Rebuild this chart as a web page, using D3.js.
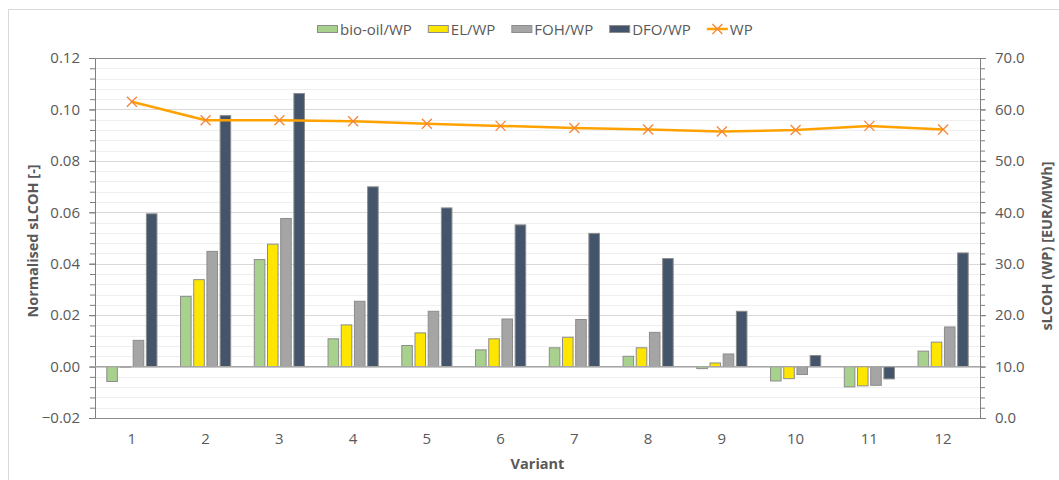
<!DOCTYPE html>
<html>
<head>
<meta charset="utf-8">
<script src="https://cdn.jsdelivr.net/npm/d3@7"></script>
<style>
  html, body { margin: 0; padding: 0; background: #fff; }
  svg { display: block; font-family: "Open Sans", sans-serif; }
</style>
</head>
<body>
<svg id="chart" width="1059" height="480"></svg>
<script>
// Variants on the category axis
const variants = ["1", "2", "3", "4", "5", "6", "7", "8", "9", "10", "11", "12"];

// Normalised sLCOH of each alternative relative to WP
const bioOilWP = [-0.0058, 0.0273, 0.0416, 0.0108, 0.0082, 0.0065, 0.0073, 0.0040, -0.0008, -0.0056, -0.0079, 0.0060];
const elWP     = [-0.0002, 0.0338, 0.0476, 0.0162, 0.0131, 0.0108, 0.0114, 0.0073, 0.0014, -0.0047, -0.0075, 0.0095];
const fohWP    = [0.0102, 0.0448, 0.0576, 0.0254, 0.0215, 0.0185, 0.0183, 0.0133, 0.0049, -0.0031, -0.0073, 0.0154];
const dfoWP    = [0.0594, 0.0976, 0.1062, 0.0699, 0.0617, 0.0551, 0.0518, 0.0420, 0.0215, 0.0043, -0.0048, 0.0442];

// sLCOH of the WP reference [EUR/MWh]
const wpLCOH = [61.5, 57.9, 57.9, 57.7, 57.2, 56.8, 56.4, 56.1, 55.7, 56.0, 56.8, 56.1];

const seriesNames = ["bio-oil/WP", "EL/WP", "FOH/WP", "DFO/WP"];
const seriesColors = ["#a9d18e", "#ffe600", "#a5a5a5", "#44546a"];
const lineName = "WP";

const leftTicks = [-0.02, 0.00, 0.02, 0.04, 0.06, 0.08, 0.10, 0.12];
const rightTicks = [0, 10, 20, 30, 40, 50, 60, 70];

const barSeries = [bioOilWP, elWP, fohWP, dfoWP];

const svg = d3.select("#chart");
const M = { left: 95, right: 980, top: 58, bottom: 418 };
const FS = "15px";

// outer chart frame
svg.append("rect")
  .attr("x", 8.5).attr("y", 9.5).attr("width", 1200).attr("height", 600)
  .attr("fill", "none").attr("stroke", "#d9d9d9").attr("stroke-width", 1);

const x0 = d3.scaleBand().domain(variants).range([M.left, M.right]).padding(0);
const bw = x0.bandwidth();
const x1 = d3.scaleBand().domain(seriesNames).range([bw * 0.16, bw * 0.84]).paddingInner(0.2);

const yL = d3.scaleLinear().domain([-0.02, 0.12]).range([M.bottom, M.top]);
const yR = d3.scaleLinear().domain([0, 70]).range([M.bottom, M.top]);

// gridlines: minor every 0.004, major every 0.02
const minorVals = d3.range(0, 36).map(i => -0.02 + i * 0.004);
svg.append("g").selectAll("line").data(minorVals).join("line")
  .attr("x1", M.left).attr("x2", M.right)
  .attr("y1", d => Math.round(yL(d)) + 0.5).attr("y2", d => Math.round(yL(d)) + 0.5)
  .attr("stroke", "#efefef").attr("stroke-width", 1);
svg.append("g").selectAll("line").data(leftTicks).join("line")
  .attr("x1", M.left).attr("x2", M.right)
  .attr("y1", d => Math.round(yL(d)) + 0.5).attr("y2", d => Math.round(yL(d)) + 0.5)
  .attr("stroke", "#d9d9d9").attr("stroke-width", 1);

// left axis
const leftAxis = svg.append("g").attr("transform", `translate(${M.left},0)`)
  .call(d3.axisLeft(yL).tickValues(leftTicks).tickFormat(d3.format(".2f")).tickSize(6).tickPadding(9));
const leftMinor = svg.append("g").attr("transform", `translate(${M.left},0)`)
  .call(d3.axisLeft(yL).tickValues(minorVals).tickFormat("").tickSize(5));
// right axis
const rightAxis = svg.append("g").attr("transform", `translate(${M.right},0)`)
  .call(d3.axisRight(yR).tickValues(rightTicks).tickFormat(d3.format(".1f")).tickSize(6).tickPadding(9));
const rightMinor = svg.append("g").attr("transform", `translate(${M.right},0)`)
  .call(d3.axisRight(yR).tickValues(d3.range(0, 36).map(i => i * 2)).tickFormat("").tickSize(5));

[leftAxis, leftMinor, rightAxis, rightMinor].forEach(g => {
  g.selectAll(".domain").attr("stroke", "#7f7f7f");
  g.selectAll(".tick line").attr("stroke", "#7f7f7f");
  g.selectAll("text").attr("fill", "#595959").style("font-size", FS)
    .style("font-family", "'Open Sans', sans-serif");
});

// plot frame top/bottom
svg.append("line").attr("x1", M.left).attr("x2", M.right)
  .attr("y1", M.top + 0.5).attr("y2", M.top + 0.5).attr("stroke", "#8c8c8c");
svg.append("line").attr("x1", M.left).attr("x2", M.right)
  .attr("y1", M.bottom + 0.5).attr("y2", M.bottom + 0.5).attr("stroke", "#8c8c8c");

// category labels
const xAxis = svg.append("g").attr("transform", `translate(0,${M.bottom})`)
  .call(d3.axisBottom(x0).tickSize(0).tickPadding(15));
xAxis.select(".domain").remove();
xAxis.selectAll("text").attr("fill", "#595959").style("font-size", FS)
  .style("font-family", "'Open Sans', sans-serif");

// bars
const groups = svg.append("g").selectAll("g").data(variants).join("g")
  .attr("transform", d => `translate(${x0(d)},0)`);
groups.selectAll("rect")
  .data((d, i) => seriesNames.map((s, k) => ({ s, k, v: barSeries[k][i] })))
  .join("rect")
  .attr("x", d => x1(d.s))
  .attr("width", x1.bandwidth())
  .attr("y", d => Math.min(yL(0), yL(d.v)))
  .attr("height", d => Math.abs(yL(d.v) - yL(0)))
  .attr("fill", d => seriesColors[d.k])
  .attr("stroke", "#8c8c8c").attr("stroke-width", 1);

// zero line for the category axis
svg.append("line").attr("x1", M.left).attr("x2", M.right)
  .attr("y1", yL(0)).attr("y2", yL(0)).attr("stroke", "#a6a6a6").attr("stroke-width", 1.2);

// WP line on the secondary axis
const cx = d => x0(d) + bw / 2;
const lineGen = d3.line().x((d, i) => cx(variants[i])).y(d => yR(d));
svg.append("path").datum(wpLCOH).attr("d", lineGen)
  .attr("fill", "none").attr("stroke", "#ffa200").attr("stroke-width", 2.5)
  .attr("stroke-linejoin", "round");

const cross = (g, s) => g.append("path")
  .attr("d", `M${-s},${-s}L${s},${s}M${-s},${s}L${s},${-s}`)
  .attr("stroke", "#f5873a").attr("stroke-width", 1.3).attr("fill", "none");
wpLCOH.forEach((v, i) => {
  const g = svg.append("g").attr("transform", `translate(${cx(variants[i])},${yR(v)})`);
  cross(g, 5);
});

// axis titles
svg.append("text")
  .attr("transform", `translate(38,${(M.top + M.bottom) / 2 + 3}) rotate(-90)`)
  .attr("text-anchor", "middle").attr("fill", "#595959")
  .style("font-size", "14.5px").style("font-weight", "bold")
  .text("Normalised sLCOH [-]");
svg.append("text")
  .attr("transform", `translate(1052,${(M.top + M.bottom) / 2 + 8}) rotate(-90)`)
  .attr("text-anchor", "middle").attr("fill", "#595959")
  .style("font-size", "14.5px").style("font-weight", "bold")
  .text("sLCOH (WP) [EUR/MWh]");
svg.append("text")
  .attr("x", (M.left + M.right) / 2).attr("y", 469)
  .attr("text-anchor", "middle").attr("fill", "#595959")
  .style("font-size", "14.5px").style("font-weight", "bold")
  .text("Variant");

// legend
const legend = svg.append("g");
const legendItems = seriesNames.map((n, k) => ({ name: n, color: seriesColors[k], type: "bar" }))
  .concat([{ name: lineName, color: "#ffa200", type: "line" }]);
let lx = 317;
const ly = 29;
legendItems.forEach(it => {
  const g = legend.append("g").attr("transform", `translate(${lx},${ly})`);
  if (it.type === "bar") {
    g.append("rect").attr("x", 0.5).attr("y", -3.5).attr("width", 20).attr("height", 7)
      .attr("fill", it.color).attr("stroke", "#8c8c8c");
  } else {
    g.append("line").attr("x1", 0).attr("x2", 21).attr("y1", 0).attr("y2", 0)
      .attr("stroke", it.color).attr("stroke-width", 2.5);
    const m = g.append("g").attr("transform", "translate(10.5,0)");
    cross(m, 5);
  }
  const t = g.append("text").attr("x", 23).attr("y", 5.5).attr("fill", "#595959")
    .style("font-size", FS).text(it.name);
  lx += 23 + t.node().getComputedTextLength() + 16;
});
</script>
</body>
</html>
